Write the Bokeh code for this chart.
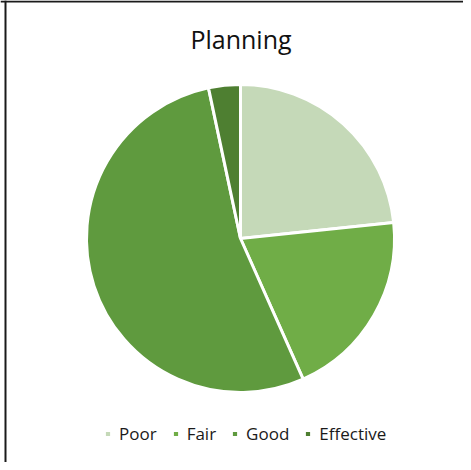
import numpy as np
from bokeh.plotting import figure
from bokeh.models import Range1d, Label, Span, Legend, LegendItem, ColumnDataSource
from bokeh.embed import file_html
from bokeh.resources import INLINE

# Data
categories = ["Poor", "Fair", "Good", "Effective"]
counts = [7, 6, 16, 1]
colors = ["#C5D9B8", "#70AD47", "#5F9A3E", "#4E7F31"]
title_text = "Planning"

W, H = 463, 462
p = figure(width=W, height=H, output_backend="svg", toolbar_location=None,
           x_axis_type=None, y_axis_type=None, min_border=0,
           x_range=Range1d(0, W), y_range=Range1d(0, H))
p.outline_line_color = None
p.title.visible = False
p.background_fill_color = "white"
p.border_fill_color = "white"

# frame border (top & left visible inside window)
p.add_layout(Span(location=5, dimension="height", line_color="#1a1a1a", line_width=2))
p.add_layout(Span(location=H - 1, dimension="width", line_color="#1a1a1a", line_width=2))

vals = np.array(counts, dtype=float)
frac = vals / vals.sum()
cum = np.concatenate([[0], np.cumsum(frac)])
start = np.pi / 2 - cum[:-1] * 2 * np.pi
end = np.pi / 2 - cum[1:] * 2 * np.pi

src = ColumnDataSource(dict(cat=categories, start=start, end=end, color=colors))
cx, cy, r = 240, 224, 154
rend = p.wedge(x=cx, y=cy, radius=r, start_angle="start", end_angle="end",
               direction="clock", fill_color="color", line_color="white",
               line_width=3, source=src)

p.add_layout(Label(x=240.5, y=424, text=title_text, text_align="center",
                   text_baseline="alphabetic", text_font="Open Sans",
                   text_font_size="25px", text_color="#111111"))

items = [LegendItem(label=c, renderers=[rend], index=i) for i, c in enumerate(categories)]
legend = Legend(items=items, orientation="horizontal", location=(103, 17),
                padding=0, margin=0, spacing=14, label_standoff=7,
                glyph_width=9, glyph_height=9,
                label_text_font="Open Sans", label_text_font_size="17px",
                label_text_color="#1a1a1a", border_line_color=None,
                background_fill_alpha=0)
p.add_layout(legend, "center")

open("out.html", "w").write(file_html(p, INLINE))
